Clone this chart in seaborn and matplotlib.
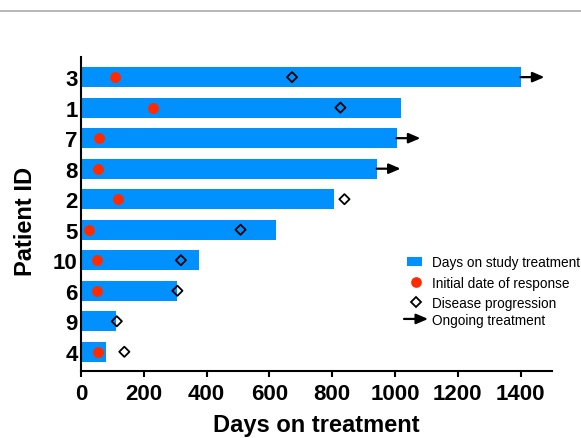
import matplotlib
matplotlib.use("Agg")
import matplotlib.pyplot as plt
import seaborn as sns
import pandas as pd
from matplotlib.lines import Line2D
from matplotlib.patches import Patch, Rectangle, FancyArrowPatch
from matplotlib.legend_handler import HandlerBase, HandlerPatch

# Swimmer-plot data, one entry per patient (top to bottom)
patients = ["3", "1", "7", "8", "2", "5", "10", "6", "9", "4"]
days_on_treatment = [1400, 1020, 1005, 942, 805, 622, 376, 307, 113, 81]
response_day = [107, 230, 56, 54, 118, 26, 52, 51, None, 53]
progression_day = [672, 826, None, None, 839, 508, 318, 307, 114, 138]
ongoing_patients = ["3", "7", "8"]
x_ticks = [0, 200, 400, 600, 800, 1000, 1200, 1400]

BAR_BLUE = "#0091FF"
RESP_RED = "#FF2A00"
ARROW_LEN = 76
ARROW_STYLE = "-|>,head_length=0.7,head_width=0.3"

sns.set_style("ticks")
plt.rcParams["font.family"] = ["Liberation Sans", "DejaVu Sans"]
plt.rcParams.update({
    "text.color": "black",
    "axes.labelcolor": "black",
    "xtick.color": "black",
    "ytick.color": "black",
    "axes.edgecolor": "black",
})

W, H = 581, 439
fig = plt.figure(figsize=(W / 100, H / 100), dpi=100)
ax = fig.add_axes([81 / W, 1 - 372.3 / H, 471 / W, 314.3 / H])

pos = {p: i for i, p in enumerate(patients)}

bars = pd.DataFrame({"patient": patients, "days": days_on_treatment})
sns.barplot(data=bars, x="days", y="patient", order=patients, orient="h",
            color=BAR_BLUE, saturation=1, width=0.65, linewidth=0, ax=ax)

resp = pd.DataFrame({
    "day": [r for r in response_day if r is not None],
    "pos": [pos[p] for p, r in zip(patients, response_day) if r is not None],
})
sns.scatterplot(data=resp, x="day", y="pos", color=RESP_RED, s=62,
                linewidth=0, legend=False, ax=ax, zorder=3)

prog = pd.DataFrame({
    "day": [d for d in progression_day if d is not None],
    "pos": [pos[p] for p, d in zip(patients, progression_day) if d is not None],
})
sns.scatterplot(data=prog, x="day", y="pos", marker="D", s=27,
                facecolors="none", edgecolor="black", linewidth=1.3,
                legend=False, ax=ax, zorder=4)

for p in ongoing_patients:
    i = pos[p]
    end = days_on_treatment[i]
    ax.annotate("", xy=(end + ARROW_LEN, i), xytext=(end, i),
                arrowprops=dict(arrowstyle=ARROW_STYLE, color="black", lw=1.6,
                                shrinkA=0, shrinkB=0),
                annotation_clip=False, zorder=5)

ax.set_xlim(0, 1500)
ax.set_ylim(9.64, -0.66)
ax.set_xticks(x_ticks)
ax.set_xticklabels([str(t) for t in x_ticks])
sns.despine(ax=ax)
for side in ("left", "bottom"):
    ax.spines[side].set_linewidth(1.5)
    ax.spines[side].set_color("black")
ax.tick_params(axis="x", length=4.5, width=1.5, pad=4, labelsize=16,
               color="black", labelcolor="black")
ax.tick_params(axis="y", length=0, pad=2.5, labelsize=16, labelcolor="black")
for lab in ax.get_xticklabels() + ax.get_yticklabels():
    lab.set_fontweight("bold")

ax.set_xlabel("Days on treatment", fontsize=17, fontweight="bold", labelpad=6.5,
              color="black")
ax.set_ylabel("Patient ID", fontsize=17, fontweight="bold", color="black")
ax.yaxis.set_label_coords(-0.093, 0.48)


# Legend handlers
def bar_patch(legend, orig_handle, xdescent, ydescent, width, height, fontsize):
    return Rectangle((-xdescent + 1.9, -ydescent + (height - 6) / 2), 11, 6)


class ArrowHandler(HandlerBase):
    def create_artists(self, legend, orig_handle, xdescent, ydescent,
                       width, height, fontsize, trans):
        y = height / 2 - ydescent
        arr = FancyArrowPatch((-xdescent, y), (-xdescent + width, y),
                              arrowstyle=ARROW_STYLE, mutation_scale=10,
                              lw=1.6, color="black", shrinkA=0, shrinkB=0,
                              transform=trans)
        return [arr]


LEG_FS = 9.8
common = dict(frameon=False, fontsize=LEG_FS, borderpad=0, borderaxespad=0,
              handlelength=1.77, handletextpad=0.27, loc="center left",
              bbox_transform=fig.transFigure, labelcolor="black")

h_bar = Patch(facecolor=BAR_BLUE, edgecolor="none")
h_resp = Line2D([], [], ls="none", marker="o", ms=7.7, color=RESP_RED, mew=0)
h_prog = Line2D([], [], ls="none", marker="D", ms=5, mfc="none", mec="black", mew=1.3)
leg1 = ax.legend([h_bar, h_resp, h_prog],
                 ["Days on study treatment", "Initial date of response", "Disease progression"],
                 handler_map={Patch: HandlerPatch(patch_func=bar_patch)},
                 labelspacing=0.48, bbox_to_anchor=(404 / W, 1 - 283.7 / H), **common)
ax.add_artist(leg1)

h_arrow = Line2D([], [])
ax.legend([h_arrow], ["Ongoing treatment"], handler_map={h_arrow: ArrowHandler()},
          bbox_to_anchor=(404 / W, 1 - 320.7 / H), **common)

fig.add_artist(Line2D([0, 1], [1 - 11.5 / H] * 2, color="#aaaaaa", lw=1.2,
                      transform=fig.transFigure))

fig.savefig("out.png", dpi=100)
